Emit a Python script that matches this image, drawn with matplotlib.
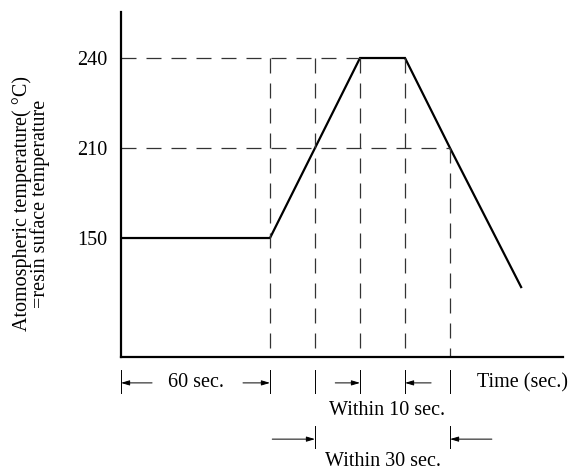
import numpy as np
import matplotlib.pyplot as plt

plt.rcParams['font.family'] = ['Liberation Serif', 'DejaVu Serif']

# schematic profile (time in arbitrary units, temperature in degC)
time_pts = [0.0, 3.31, 5.31, 6.31, 7.31, 8.89]
temp_pts = [150, 150, 240, 240, 210, 117.3]
y_ticks = [150, 210, 240]
marks = [3.31, 4.31, 5.31, 6.31, 7.31]   # dashed guide positions

# the temperature axis is not drawn to scale: piecewise linear mapping
t_knots = np.array([70.7, 150, 210, 240, 255.3])
p_knots = np.array([0.0, 119, 209, 299, 345])


def _pw(v, xs, ys):
    v = np.asarray(v, dtype=float)
    out = np.interp(v, xs, ys)
    lo = v < xs[0]
    hi = v > xs[-1]
    out[lo] = ys[0] + (v[lo] - xs[0]) * (ys[1] - ys[0]) / (xs[1] - xs[0])
    out[hi] = ys[-1] + (v[hi] - xs[-1]) * (ys[-1] - ys[-2]) / (xs[-1] - xs[-2])
    return out


fig = plt.figure(figsize=(5.7, 4.71), dpi=100)
ax = fig.add_axes([0.2123, 0.242, 0.7754, 0.7325])
ax.set_yscale('function', functions=(lambda v: _pw(v, t_knots, p_knots),
                                     lambda v: _pw(v, p_knots, t_knots)))
ax.set_xlim(0, 9.82)
ax.set_ylim(70.7, 255.3)

dash = (0, (12, 8))
gc = '#333333'
ax.plot(time_pts, temp_pts, color='k', lw=1.6, solid_joinstyle='miter')
ax.plot([0, marks[2]], [240, 240], color=gc, lw=0.9, ls=dash)
ax.plot([0, marks[4]], [210, 210], color=gc, lw=0.9, ls=dash)
for m in marks[:4]:
    ax.plot([m, m], [240, 70.7], color=gc, lw=0.9, ls=dash)
ax.plot([marks[4], marks[4]], [210, 70.7], color=gc, lw=0.9, ls=dash)

for s in ['top', 'right']:
    ax.spines[s].set_visible(False)
for s in ['left', 'bottom']:
    ax.spines[s].set_linewidth(1.6)
ax.set_xticks([])
ax.set_yticks(y_ticks)
ax.set_yticklabels([str(v) for v in y_ticks])
ax.yaxis.set_minor_locator(plt.NullLocator())
ax.tick_params(axis='y', length=0, pad=10, labelsize=14.5)

fig.text(0.054, 0.567, 'Atomospheric temperature( °C)\n=resin suface temperature',
         fontsize=14.5, rotation=90, ha='center', va='center', linespacing=0.9)

# dimension marks under the axis (x in data, y in axes fraction)
fs = 14.5
tr = ax.get_xaxis_transform()
for m in [0.0] + marks:
    ax.plot([m, m], [-0.038, -0.104], color='k', lw=0.7, transform=tr, clip_on=False)
for m in [marks[1], marks[4]]:
    ax.plot([m, m], [-0.200, -0.264], color='k', lw=0.7, transform=tr, clip_on=False)

arrow = dict(arrowstyle='-|>,head_length=0.5,head_width=0.15', lw=0.7, color='k',
             shrinkA=0, shrinkB=0)


def harrow(x0, x1, y):
    ax.annotate('', xy=(x1, y), xytext=(x0, y), xycoords=tr, textcoords=tr,
                arrowprops=arrow, annotation_clip=False)


harrow(0.69, 0.0, -0.075)
harrow(2.71, 3.31, -0.075)
harrow(4.76, 5.31, -0.075)
harrow(6.89, 6.31, -0.075)
harrow(3.36, 4.31, -0.238)
harrow(8.24, 7.31, -0.238)

ax.text(1.67, -0.075, '60 sec.', fontsize=fs, ha='center', va='center', transform=tr)
ax.text(7.9, -0.075, 'Time (sec.)', fontsize=fs, ha='left', va='center', transform=tr)
ax.text(5.91, -0.154, 'Within 10 sec.', fontsize=fs, ha='center', va='center', transform=tr)
ax.text(5.82, -0.304, 'Within 30 sec.', fontsize=fs, ha='center', va='center', transform=tr)

fig.savefig('out.png', dpi=100)
